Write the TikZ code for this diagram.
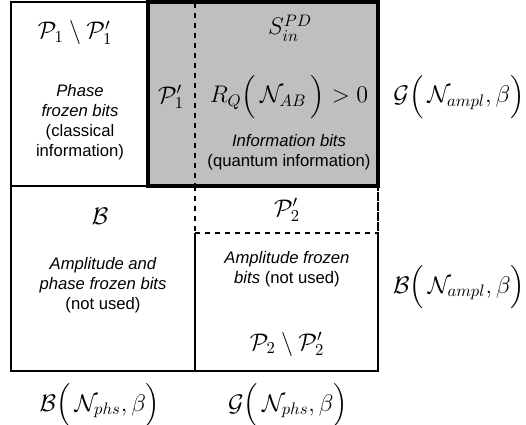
\documentclass[tikz,border=0pt]{standalone}
\usepackage{fontspec}
\setsansfont{Liberation Sans}
\usepackage{amsmath}
\usetikzlibrary{positioning}

\begin{document}
\begin{tikzpicture}[x=0.6pt,y=-0.6pt,
    cell/.style={draw=black,line width=0.8pt},
    infobox/.style={draw=black,line width=2pt,fill=gray!50},
    split/.style={draw=black,line width=0.8pt,dashed},
    txt/.style={align=center,font=\sffamily,inner sep=0pt},
    setlabel/.style={font=\Large,inner sep=0pt}
]
    \useasboundingbox (0,0) rectangle (526,424);

    % Cells
    \draw[cell] (11,2) rectangle (378,371);
    \draw[cell] (11,186) -- (378,186);
    \draw[cell] (195,233) -- (195,371);
    \draw[split] (195,186) -- (195,233);
    \draw[split] (195,233) -- (378,233);
    \draw[split,draw=white,line width=1.2pt,dashed=false] (378,187) -- (378,232);
    \draw[split] (378,186) -- (378,233);

    % Information set
    \draw[infobox] (148,2) rectangle (378,186);
    \draw[split] (195,3) -- (195,185);

    % Top row
    \node[setlabel] (p1rest) at (75,33) {$\mathcal{P}_1 \setminus \mathcal{P}_1'$};
    \node[txt] (phasefrozen) at (80,122) {\itshape Phase\\ \itshape frozen bits\\(classical\\information)};
    \node[setlabel] (p1prime) at (171,97) {$\mathcal{P}_1'$};
    \node[setlabel] (sinpd) at (290,28) {$S_{in}^{PD}$};
    \node[setlabel] (rate) at (289,97) {$R_Q\Big(\,\mathcal{N}_{AB}\,\Big) > 0$};
    \node[txt] (infobits) at (289,152) {\itshape Information bits\\(quantum information)};

    % Bottom row
    \node[setlabel] (badset) at (100,216) {$\mathcal{B}$};
    \node[txt] (bothfrozen) at (103,285) {\itshape Amplitude and\\ \itshape phase frozen bits\\(not used)};
    \node[setlabel] (p2prime) at (287,210) {$\mathcal{P}_2'$};
    \node[txt] (amplfrozen) at (287,269) {\itshape Amplitude frozen\\ \itshape bits \upshape(not used)};
    \node[setlabel] (p2rest) at (287,344) {$\mathcal{P}_2 \setminus \mathcal{P}_2'$};

    % Channel labels
    \node[setlabel] (goodampl) at (459,97) {$\mathcal{G}\Big(\,\mathcal{N}_{ampl},\beta\Big)$};
    \node[setlabel] (badampl) at (459,287) {$\mathcal{B}\Big(\,\mathcal{N}_{ampl},\beta\Big)$};
    \node[setlabel] (badphs) at (100,405) {$\mathcal{B}\Big(\,\mathcal{N}_{phs},\beta\Big)$};
    \node[setlabel] (goodphs) at (288,405) {$\mathcal{G}\Big(\,\mathcal{N}_{phs},\beta\Big)$};
\end{tikzpicture}
\end{document}
